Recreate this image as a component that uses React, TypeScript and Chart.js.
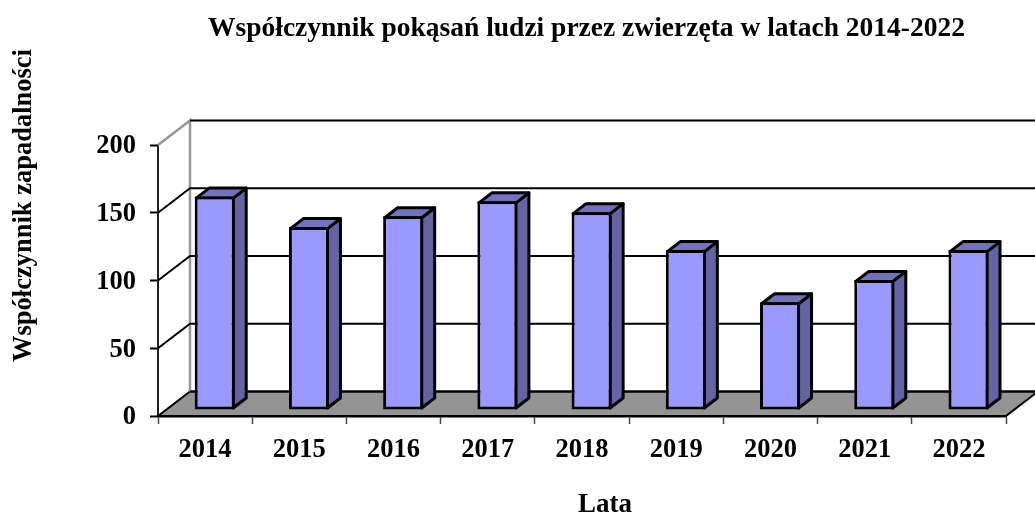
import React, { useEffect, useRef } from "react";
import { Chart, registerables } from "chart.js";

Chart.register(...registerables);

const categories = ["2014", "2015", "2016", "2017", "2018", "2019", "2020", "2021", "2022"];
const rates = [157.5, 135, 143, 154, 146, 118, 79.5, 96, 118];
const yTicks = [0, 50, 100, 150, 200];
const chartTitle = "Współczynnik pokąsań ludzi przez zwierzęta w latach 2014-2022";
const xTitle = "Lata";
const yTitle = "Współczynnik zapadalności";

const FONT = "'Liberation Serif', 'Times New Roman', serif";
const WALL_DX = 32;
const WALL_DY = 24.5;
const BAR_DX = 9.6;
const BAR_DY = 6;
const SIDE_DX = 13;
const SIDE_DY = 10;

const poly = (ctx: CanvasRenderingContext2D, pts: number[][], fill: string) => {
  ctx.beginPath();
  pts.forEach(([x, y], i) => (i ? ctx.lineTo(x, y) : ctx.moveTo(x, y)));
  ctx.closePath();
  ctx.fillStyle = fill;
  ctx.fill();
  ctx.stroke();
};

const shiftTitle = (scale: any, dx: number, dy: number) => {
  if (scale.__shifted) return;
  scale.__shifted = true;
  const orig = scale.drawTitle.bind(scale);
  scale.drawTitle = () => {
    scale.ctx.save();
    scale.ctx.translate(dx, dy);
    orig();
    scale.ctx.restore();
  };
};

const threeD = {
  id: "threeD",
  afterLayout(chart: any) {
    chart.titleBlock.left = 167;
    shiftTitle(chart.scales.x, 23, 9);
    shiftTitle(chart.scales.y, 0, -75);
  },
  beforeDatasetsDraw(chart: any) {
    const { ctx, scales, chartArea, width } = chart;
    const y = scales.y;
    const { left, right } = chartArea;
    const y0 = y.getPixelForValue(0);
    const yMax = y.getPixelForValue(200);
    ctx.save();
    ctx.lineJoin = "miter";
    ctx.lineWidth = 2;
    ctx.strokeStyle = "#000";
    poly(
      ctx,
      [
        [left, y0],
        [left + WALL_DX, y0 - WALL_DY],
        [right + WALL_DX, y0 - WALL_DY],
        [right, y0],
      ],
      "#949494"
    );
    ctx.lineWidth = 2.5;
    ctx.strokeStyle = "#969696";
    ctx.beginPath();
    ctx.moveTo(left + WALL_DX, y0 - WALL_DY);
    ctx.lineTo(left + WALL_DX, yMax - WALL_DY);
    ctx.lineTo(left, yMax);
    ctx.stroke();
    ctx.lineWidth = 2;
    ctx.strokeStyle = "#000";
    yTicks.forEach((v) => {
      const py = y.getPixelForValue(v);
      ctx.beginPath();
      if (v > 0 && v < 200) {
        ctx.moveTo(left, py);
        ctx.lineTo(left + WALL_DX, py - WALL_DY);
      } else {
        ctx.moveTo(left + WALL_DX, py - WALL_DY);
      }
      ctx.lineTo(width, py - WALL_DY);
      ctx.stroke();
    });
    ctx.restore();
    ctx.save();
    ctx.translate(BAR_DX, -BAR_DY);
    ctx.lineWidth = 3;
    ctx.lineJoin = "round";
    ctx.strokeStyle = "#000";
    chart.getDatasetMeta(0).data.forEach((bar: any) => {
      const r = bar.x + bar.width / 2 - 1.5;
      const l = bar.x - bar.width / 2 + 1.5;
      const t = bar.y + 1.5;
      const b = bar.base - 1.5;
      poly(ctx, [[r, t], [r + SIDE_DX, t - SIDE_DY], [r + SIDE_DX, b - SIDE_DY], [r, b]], "#6363A6");
      poly(ctx, [[l, t], [l + SIDE_DX, t - SIDE_DY], [r + SIDE_DX, t - SIDE_DY], [r, t]], "#7272BE");
    });
  },
  afterDatasetsDraw(chart: any) {
    chart.ctx.restore();
  },
};

export default function App() {
  const ref = useRef<HTMLCanvasElement>(null);
  useEffect(() => {
    const chart = new Chart(ref.current as HTMLCanvasElement, {
      type: "bar",
      data: {
        labels: categories,
        datasets: [
          {
            label: "Współczynnik",
            data: rates,
            backgroundColor: "#9999FF",
            borderColor: "#000",
            borderWidth: 3,
            borderSkipped: false,
            barPercentage: 0.425,
            categoryPercentage: 1,
          },
        ],
      },
      options: {
        responsive: false,
        animation: false,
        layout: { padding: { left: 0, right: 29, top: 0, bottom: 0 } },
        plugins: {
          legend: { display: false },
          tooltip: { enabled: false },
          title: {
            display: true,
            text: chartTitle,
            color: "#000",
            font: { family: FONT, size: 27.5, weight: "bold", lineHeight: 1.2 },
            padding: { top: 12, bottom: 100 },
          },
        },
        scales: {
          x: {
            afterFit: (s: any) => {
              s.height = 96;
            },
            border: { color: "#000", width: 2.5 },
            grid: { drawOnChartArea: false, drawTicks: true, tickLength: 8, tickColor: "#444", tickWidth: 1.5, offset: true },
            ticks: { color: "#000", padding: 10, maxRotation: 0, font: { family: FONT, size: 26.5, weight: "bold" } },
            title: {
              display: true,
              text: xTitle,
              color: "#000",
              font: { family: FONT, size: 27, weight: "bold" },
              padding: { top: 18, bottom: 0 },
            },
          },
          y: {
            min: 0,
            max: 200,
            afterFit: (s: any) => {
              s.width = 158;
            },
            afterBuildTicks: (s: any) => {
              s.ticks = yTicks.map((value) => ({ value }));
            },
            border: { color: "#222", width: 2 },
            grid: { drawOnChartArea: false, drawTicks: true, tickLength: 8, tickColor: "#000", tickWidth: 2 },
            ticks: { color: "#000", padding: 14, labelOffset: 1.5, font: { family: FONT, size: 26.5, weight: "bold" } },
            title: {
              display: true,
              text: yTitle,
              color: "#000",
              font: { family: FONT, size: 26.5, weight: "bold" },
              padding: { top: 8, bottom: 0 },
            },
          },
        },
      },
      plugins: [threeD],
    } as any);
    return () => chart.destroy();
  }, []);
  return (
    <div style={{ position: "absolute", left: 0, top: 0, width: 1035, height: 512, background: "#fff", overflow: "hidden" }}>
      <canvas ref={ref} width={1035} height={512} style={{ display: "block" }} />
    </div>
  );
}
